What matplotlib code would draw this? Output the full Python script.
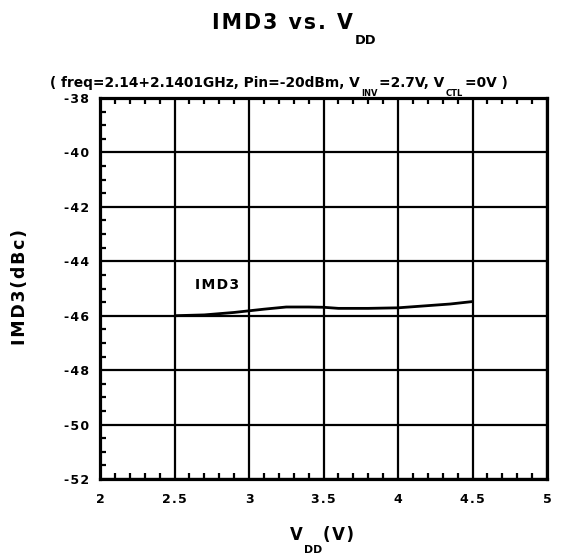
import matplotlib
matplotlib.use("Agg")
import matplotlib.pyplot as plt
from matplotlib.ticker import MultipleLocator
from matplotlib.transforms import IdentityTransform

plt.rcParams['font.family'] = ['DejaVu Sans']
plt.rcParams['font.weight'] = 'bold'
plt.rcParams['axes.unicode_minus'] = False

# data
vdd = [2.5, 2.7, 2.9, 3.0, 3.1, 3.25, 3.4, 3.5, 3.6, 3.8, 4.0, 4.2, 4.35, 4.5]
imd3 = [-46.0, -45.97, -45.88, -45.82, -45.76, -45.68, -45.68, -45.69, -45.73, -45.73, -45.71, -45.63, -45.57, -45.48]

x_ticks = [2, 2.5, 3, 3.5, 4, 4.5, 5]
x_labels = ['2', '2.5', '3', '3.5', '4', '4.5', '5']
y_ticks = [-52, -50, -48, -46, -44, -42, -40, -38]
y_labels = ['-52', '-50', '-48', '-46', '-44', '-42', '-40', '-38']

W, H = 561, 556
HAIR = '\u200a'


def spaced(s, sep=HAIR):
    # the original plot uses wide letter spacing
    return sep.join(s)


fig = plt.figure(figsize=(W / 100, H / 100), dpi=100)
ax = fig.add_axes([100 / W, 1 - 479 / H, 447 / W, 381 / H])

ax.plot(vdd, imd3, color='black', lw=2.0, solid_capstyle='butt')
ax.text(2.64, -44.87, spaced('IMD3'), fontsize=10, va='center', ha='left')

ax.set_xlim(2, 5)
ax.set_ylim(-52, -38)
ax.set_xticks(x_ticks)
ax.set_xticklabels([spaced(l) for l in x_labels])
ax.set_yticks(y_ticks)
ax.set_yticklabels([spaced(l) for l in y_labels])
ax.xaxis.set_minor_locator(MultipleLocator(0.1))
ax.yaxis.set_minor_locator(MultipleLocator(0.5))
ax.grid(True, which='major', color='black', lw=1.6)
ax.tick_params(which='major', length=0, labelsize=9)
ax.tick_params(axis='x', which='major', pad=10)
ax.tick_params(axis='y', which='major', pad=8)
ax.tick_params(which='minor', direction='in', length=4, width=1.6,
               top=True, right=False, bottom=True, left=True)
for s in ax.spines.values():
    s.set_linewidth(2.3)

renderer = fig.canvas.get_renderer()


def rich(segments, x, y, gap=1.0):
    # segments: (text, size, drop in px); x = left edge px, y = baseline px from top
    cur = x
    for txt, size, drop in segments:
        t = fig.text(cur, H - (y + drop), txt, fontsize=size, ha='left',
                     va='baseline', transform=IdentityTransform())
        cur += t.get_window_extent(renderer).width + gap


rich([(spaced('IMD3 vs. V'), 14.8, 0), ('DD', 9.4, 15)], 212, 29, gap=2)
rich([('( freq=2.14+2.1401GHz, Pin=-20dBm, V', 9.9, 0),
      ('INV', 6, 9),
      ('=2.7V, V', 9.9, 0),
      ('CTL', 6, 9),
      ('=0V )', 9.9, 0)], 50, 87, gap=1.5)
rich([('V', 11.9, 0), ('DD', 7.9, 13), (spaced('(V)'), 11.9, 0)], 290, 540, gap=1.0)

fig.text(20, H - 287, spaced('IMD3(dBc)'), fontsize=12.5, rotation=90,
         ha='center', va='center', transform=IdentityTransform())

fig.savefig('out.png', dpi=100)
